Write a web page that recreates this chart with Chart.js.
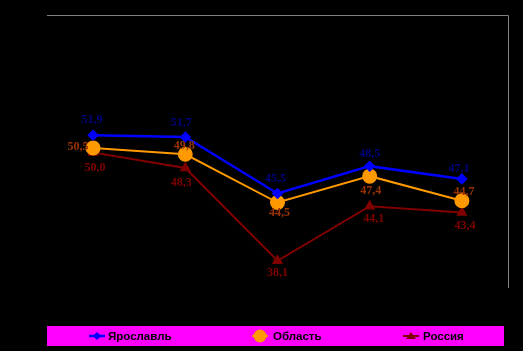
<!DOCTYPE html>
<html>
<head>
<meta charset="utf-8">
<script src="https://cdn.jsdelivr.net/npm/chart.js@4.4.0/dist/chart.umd.min.js"></script>
<style>
  html, body { margin: 0; padding: 0; background: #000; }
  canvas { display: block; }
</style>
</head>
<body>
<canvas id="chart" width="523" height="351"></canvas>
<script>
// Categories (not shown on the chart)
const categories = ["1", "2", "3", "4", "5"];

// Series values
const yaroslavl = [51.9, 51.7, 45.5, 48.5, 47.1];
const oblast = [50.5, 49.8, 44.5, 47.4, 44.7];
const russia = [50.0, 48.3, 38.1, 44.1, 43.4];

const seriesNames = ["Ярославль", "Область", "Россия"];

// Label offsets from each point (dx, dy), per series
const labelOffsets = [
  [[-1, -15], [-4, -14], [-2, -15], [0, -12], [-3, -10]],
  [[-15, -1], [-1, -8], [2, 10], [1, 15], [2, -9]],
  [[2, 15], [-4, 15], [0, 12], [4, 13], [3, 13]]
];
const labelColors = ["#000080", "#993300", "#800000"];

const fmt = (v) => v.toFixed(1).replace(".", ",");

// Draw value labels next to points
const valueLabels = {
  id: "valueLabels",
  afterDatasetsDraw(chart) {
    const ctx = chart.ctx;
    ctx.save();
    ctx.font = "bold 12px 'Liberation Serif', 'Times New Roman', serif";
    ctx.textAlign = "center";
    ctx.textBaseline = "middle";
    chart.data.datasets.forEach((ds, i) => {
      const meta = chart.getDatasetMeta(i);
      meta.data.forEach((pt, j) => {
        const off = labelOffsets[i][j];
        ctx.fillStyle = labelColors[i];
        ctx.fillText(fmt(ds.data[j]), pt.x + off[0], pt.y + off[1]);
      });
    });
    ctx.restore();
  }
};

// Gray frame on top and right, magenta legend strip
const frameAndLegend = {
  id: "frameAndLegend",
  beforeDraw(chart) {
    const ctx = chart.ctx;
    ctx.save();
    ctx.fillStyle = "#000";
    ctx.fillRect(0, 0, chart.width, chart.height);
    ctx.restore();
  },
  afterDraw(chart) {
    const ctx = chart.ctx;
    const a = chart.chartArea;
    ctx.save();
    ctx.strokeStyle = "#808080";
    ctx.lineWidth = 1;
    ctx.beginPath();
    ctx.moveTo(a.left, 15.5);
    ctx.lineTo(a.right + 0.5, 15.5);
    ctx.lineTo(a.right + 0.5, 288);
    ctx.stroke();

    // legend box
    ctx.fillStyle = "#ff00ff";
    ctx.fillRect(47, 326, 457, 20);
    const cy = 336;
    const items = [
      { x: 97, textX: 108 },
      { x: 260, textX: 273 },
      { x: 411, textX: 423 }
    ];
    ctx.font = "bold 11.5px 'Liberation Sans', Arial, sans-serif";
    ctx.textBaseline = "middle";
    ctx.textAlign = "left";
    chart.data.datasets.forEach((ds, i) => {
      const it = items[i];
      ctx.strokeStyle = ds.borderColor;
      ctx.lineWidth = ds.borderWidth;
      ctx.beginPath();
      ctx.moveTo(it.x - 8, cy);
      ctx.lineTo(it.x + 8, cy);
      ctx.stroke();
      ctx.fillStyle = ds.pointBackgroundColor;
      ctx.beginPath();
      if (ds.pointStyle === "circle") {
        ctx.arc(it.x, cy, 6.5, 0, Math.PI * 2);
      } else if (ds.pointStyle === "rectRot") {
        ctx.moveTo(it.x, cy - 4);
        ctx.lineTo(it.x + 4, cy);
        ctx.lineTo(it.x, cy + 4);
        ctx.lineTo(it.x - 4, cy);
      } else {
        ctx.moveTo(it.x, cy - 4);
        ctx.lineTo(it.x + 5, cy + 3);
        ctx.lineTo(it.x - 5, cy + 3);
      }
      ctx.closePath();
      ctx.fill();
      ctx.fillStyle = "#000";
      ctx.fillText(ds.label, it.textX, cy + 1);
    });
    ctx.restore();
  }
};

new Chart(document.getElementById("chart"), {
  type: "line",
  plugins: [frameAndLegend, valueLabels],
  data: {
    labels: categories,
    datasets: [
      {
        label: seriesNames[0],
        data: yaroslavl,
        borderColor: "#0000ff",
        backgroundColor: "#0000ff",
        pointBackgroundColor: "#0000ff",
        pointBorderColor: "#0000ff",
        borderWidth: 2.5,
        pointStyle: "rectRot",
        pointRadius: 4,
        tension: 0
      },
      {
        label: seriesNames[1],
        data: oblast,
        borderColor: "#ff9900",
        backgroundColor: "#ff9900",
        pointBackgroundColor: "#ff9900",
        pointBorderColor: "#ff9900",
        borderWidth: 2,
        pointStyle: "circle",
        pointRadius: 6.5,
        tension: 0
      },
      {
        label: seriesNames[2],
        data: russia,
        borderColor: "#800000",
        backgroundColor: "#800000",
        pointBackgroundColor: "#800000",
        pointBorderColor: "#800000",
        borderWidth: 2,
        pointStyle: "triangle",
        pointRadius: 4.5,
        tension: 0
      }
    ]
  },
  options: {
    responsive: false,
    animation: false,
    layout: { padding: { left: 47, right: 15, top: 16, bottom: 62 } },
    plugins: {
      legend: { display: false },
      tooltip: { enabled: false }
    },
    scales: {
      x: { display: false, offset: true },
      y: { display: false, min: 35, max: 65 }
    }
  }
});
</script>
</body>
</html>
